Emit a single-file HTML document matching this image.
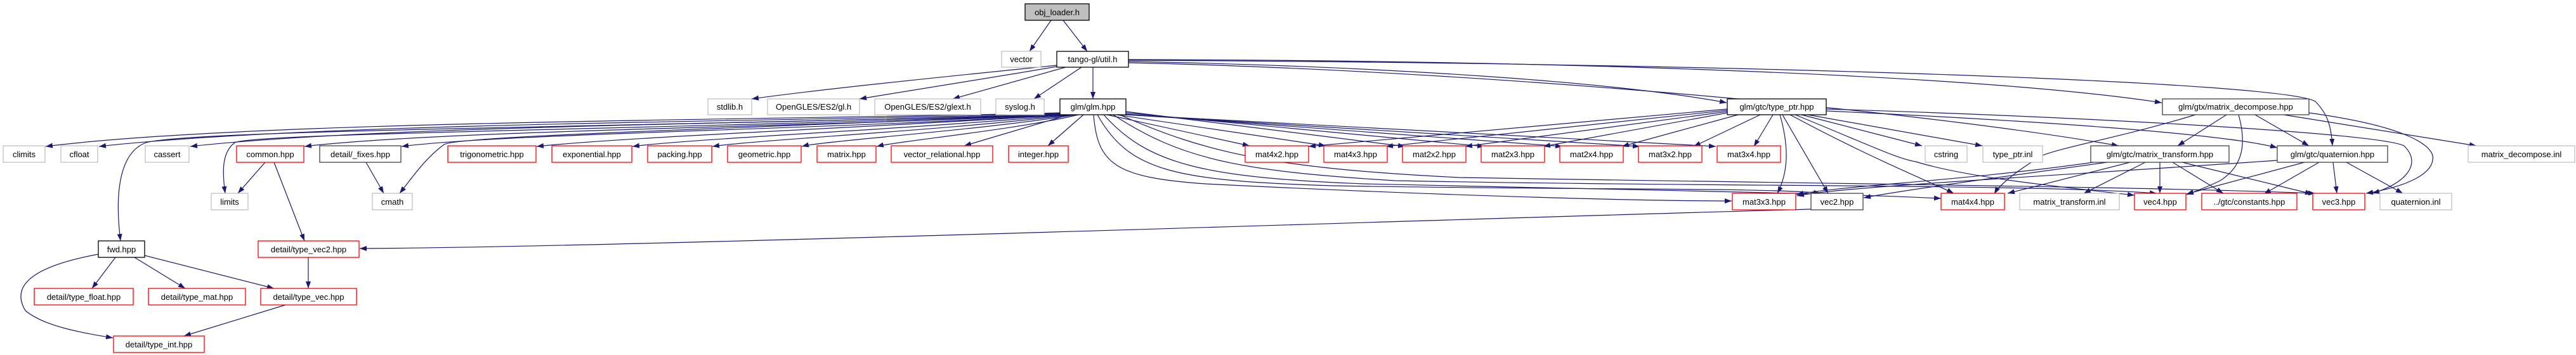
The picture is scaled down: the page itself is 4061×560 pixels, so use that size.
<!DOCTYPE html>
<html><head><meta charset="utf-8"><style>
html,body{margin:0;padding:0;background:#fff;}
svg{display:block;}
text{font-family:"Liberation Sans","DejaVu Sans",sans-serif;font-size:13px;fill:#000;text-anchor:middle;}
.e{fill:none;stroke:#191970;stroke-width:1.2;marker-end:url(#a);}
.g{fill:#fff;stroke:#bfbfbf;stroke-width:1.3;}
.r{fill:#fff;stroke:#ff0000;stroke-width:1.3;}
.b{fill:#fff;stroke:#000;stroke-width:1.3;}
.d{fill:#fff;stroke:#404040;stroke-width:1.3;}
</style></head><body>
<svg width="4061" height="560" viewBox="0 0 4061 560" xmlns="http://www.w3.org/2000/svg">
<defs><marker id="a" markerUnits="userSpaceOnUse" markerWidth="11" markerHeight="8" refX="11" refY="4" orient="auto"><path d="M0,0 L11,4 L0,8 z" fill="#191970"/></marker></defs>
<g>
<path class="e" d="M1657,32 L1623,81"/>
<path class="e" d="M1676,32 L1714,81"/>
<path class="e" d="M1666,103 C1500,120 1300,140 1185,156"/>
<path class="e" d="M1666,105 C1550,125 1420,145 1355,156"/>
<path class="e" d="M1680,106 L1502,156"/>
<path class="e" d="M1705,106 L1630,156"/>
<path class="e" d="M1723,106 L1723,156"/>
<path class="e" d="M1779,97 C2200,105 2550,130 2722,162"/>
<path class="e" d="M1779,94 C2400,95 3100,115 3408,162"/>
<path class="e" d="M1779,95 C2800,100 3600,130 3650,160 C3670,180 3675,200 3677,230"/>
<path class="e" d="M1779,99 C2300,110 3000,170 3340,230"/>
<path class="e" d="M1671,178 C1200,190 400,190 72,231"/>
<path class="e" d="M1671,179 C1200,193 500,193 156,231"/>
<path class="e" d="M1671,180 C1200,196 600,198 300,231"/>
<path class="e" d="M1671,181 C1300,200 700,205 480,231"/>
<path class="e" d="M1671,181 C1300,205 800,210 633,231"/>
<path class="e" d="M1680,181 C1400,200 1000,215 846,231"/>
<path class="e" d="M1685,181 C1450,203 1100,218 997,231"/>
<path class="e" d="M1690,181 C1500,205 1200,220 1123,231"/>
<path class="e" d="M1695,181 C1550,205 1300,222 1264,231"/>
<path class="e" d="M1700,181 C1600,205 1420,222 1382,231"/>
<path class="e" d="M1685,181 L1520,230"/>
<path class="e" d="M1708,181 L1652,230"/>
<path class="e" d="M1671,181 C1000,200 300,205 230,225 C190,240 180,300 190,380"/>
<path class="e" d="M1671,181 C1000,205 400,210 370,225 C350,240 350,270 355,305"/>
<path class="e" d="M1671,181 C1100,205 720,215 700,228 C670,250 650,280 630,305"/>
<path class="e" d="M1745,181 L1970,230"/>
<path class="e" d="M1760,181 L2090,230"/>
<path class="e" d="M1775,176 L2215,231"/>
<path class="e" d="M1775,178 L2340,231"/>
<path class="e" d="M1775,180 L2463,231"/>
<path class="e" d="M1775,181 L2585,231"/>
<path class="e" d="M1775,181 L2705,231"/>
<path class="e" d="M1724,181 C1730,260 1760,280 1900,290 C2300,310 2600,317 2730,317"/>
<path class="e" d="M1730,181 C1780,270 1850,285 2100,293 C2500,300 2800,296 2870,305"/>
<path class="e" d="M1740,181 C1810,260 1900,280 2150,290 C2600,300 2900,305 3060,313"/>
<path class="e" d="M1755,181 C1860,250 1950,270 2200,285 C2700,295 3200,290 3400,305"/>
<path class="e" d="M1765,181 C1900,240 2000,265 2300,280 C2900,290 3400,295 3650,305"/>
<path class="e" d="M2723,172 L2063,231"/>
<path class="e" d="M2723,174 L2185,231"/>
<path class="e" d="M2723,176 L2310,231"/>
<path class="e" d="M2723,178 L2433,231"/>
<path class="e" d="M2740,181 L2557,231"/>
<path class="e" d="M2775,181 L2670,231"/>
<path class="e" d="M2795,181 L2765,231"/>
<path class="e" d="M2806,181 C2820,230 2820,270 2802,305"/>
<path class="e" d="M2810,181 L2882,305"/>
<path class="e" d="M2822,181 C2950,250 3050,290 3080,305"/>
<path class="e" d="M2830,181 C2950,230 2990,250 3020,255 C3100,280 3250,295 3365,308"/>
<path class="e" d="M2840,181 L3030,230"/>
<path class="e" d="M2850,181 L3125,230"/>
<path class="e" d="M2879,175 C3200,190 3500,210 3590,233"/>
<path class="e" d="M2879,172 C3300,185 3750,210 3790,230 C3820,260 3790,290 3740,305"/>
<path class="e" d="M3510,181 L3433,230"/>
<path class="e" d="M3461,181 C3350,215 3260,230 3220,245 C3170,275 3150,295 3144,306"/>
<path class="e" d="M3529,181 C3540,220 3540,260 3500,285 C3480,295 3460,302 3447,307"/>
<path class="e" d="M3555,181 L3640,230"/>
<path class="e" d="M3600,181 L3904,230"/>
<path class="e" d="M3640,178 C3800,200 3830,230 3835,245 C3840,275 3790,295 3730,305"/>
<path class="e" d="M3322,256 C3150,280 3000,300 2938,312"/>
<path class="e" d="M3300,256 C3100,285 2900,293 2832,307"/>
<path class="e" d="M3358,256 L3165,305"/>
<path class="e" d="M3382,256 L3285,305"/>
<path class="e" d="M3405,256 L3405,305"/>
<path class="e" d="M3425,256 L3505,305"/>
<path class="e" d="M3440,256 L3645,306"/>
<path class="e" d="M3590,253 C3200,280 2900,295 2833,309"/>
<path class="e" d="M3633,256 L3447,306"/>
<path class="e" d="M3656,256 L3569,306"/>
<path class="e" d="M3678,256 L3684,305"/>
<path class="e" d="M3699,256 L3788,305"/>
<path class="e" d="M418,256 L375,305"/>
<path class="e" d="M432,256 L480,380"/>
<path class="e" d="M577,256 L605,305"/>
<path class="e" d="M2855,330 C2300,345 1000,390 567,392"/>
<path class="e" d="M182,406 L145,455"/>
<path class="e" d="M212,406 L292,455"/>
<path class="e" d="M228,403 L432,455"/>
<path class="e" d="M155,401 C80,415 10,440 40,490 C70,515 130,525 178,533"/>
<path class="e" d="M486,406 L486,455"/>
<path class="e" d="M450,481 L290,530"/>
</g>
<g>
<rect x="1616" y="6" width="101" height="26" fill="#bfbfbf" stroke="#000" stroke-width="1.3"/><text x="1666.5" y="24">obj_loader.h</text>
<rect class="g" x="1579" y="81" width="62" height="25"/><text x="1610" y="98">vector</text>
<rect class="b" x="1666" y="81" width="113" height="25"/><text x="1722.5" y="98">tango-gl/util.h</text>
<rect class="g" x="1116" y="156" width="69" height="25"/><text x="1150.5" y="173">stdlib.h</text>
<rect class="g" x="1210" y="156" width="145" height="25"/><text x="1282.5" y="173">OpenGLES/ES2/gl.h</text>
<rect class="g" x="1379" y="156" width="167" height="25"/><text x="1462.5" y="173">OpenGLES/ES2/glext.h</text>
<rect class="g" x="1570" y="156" width="76" height="25"/><text x="1608" y="173">syslog.h</text>
<rect class="b" x="1671" y="156" width="104" height="25"/><text x="1723" y="173">glm/glm.hpp</text>
<rect class="b" x="2723" y="156" width="156" height="25"/><text x="2801" y="173">glm/gtc/type_ptr.hpp</text>
<rect class="d" x="3409" y="156" width="231" height="25"/><text x="3524.5" y="173">glm/gtx/matrix_decompose.hpp</text>
<rect class="g" x="5" y="230" width="66" height="26"/><text x="38" y="248">climits</text>
<rect class="g" x="96" y="230" width="58" height="26"/><text x="125" y="248">cfloat</text>
<rect class="g" x="229" y="230" width="69" height="26"/><text x="263.5" y="248">cassert</text>
<rect class="r" x="373" y="230" width="106" height="26"/><text x="426" y="248">common.hpp</text>
<rect class="d" x="504" y="230" width="128" height="26"/><text x="568" y="248">detail/_fixes.hpp</text>
<rect class="r" x="706" y="230" width="139" height="26"/><text x="775.5" y="248">trigonometric.hpp</text>
<rect class="r" x="870" y="230" width="126" height="26"/><text x="933" y="248">exponential.hpp</text>
<rect class="r" x="1021" y="230" width="101" height="26"/><text x="1071.5" y="248">packing.hpp</text>
<rect class="r" x="1147" y="230" width="116" height="26"/><text x="1205" y="248">geometric.hpp</text>
<rect class="r" x="1288" y="230" width="93" height="26"/><text x="1334.5" y="248">matrix.hpp</text>
<rect class="r" x="1405" y="230" width="160" height="26"/><text x="1485" y="248">vector_relational.hpp</text>
<rect class="r" x="1590" y="230" width="94" height="26"/><text x="1637" y="248">integer.hpp</text>
<rect class="r" x="1963" y="230" width="100" height="26"/><text x="2013" y="248">mat4x2.hpp</text>
<rect class="r" x="2087" y="230" width="100" height="26"/><text x="2137" y="248">mat4x3.hpp</text>
<rect class="r" x="2211" y="230" width="100" height="26"/><text x="2261" y="248">mat2x2.hpp</text>
<rect class="r" x="2335" y="230" width="100" height="26"/><text x="2385" y="248">mat2x3.hpp</text>
<rect class="r" x="2459" y="230" width="100" height="26"/><text x="2509" y="248">mat2x4.hpp</text>
<rect class="r" x="2583" y="230" width="100" height="26"/><text x="2633" y="248">mat3x2.hpp</text>
<rect class="r" x="2707" y="230" width="100" height="26"/><text x="2757" y="248">mat3x4.hpp</text>
<rect class="g" x="3035" y="230" width="66" height="26"/><text x="3068" y="248">cstring</text>
<rect class="g" x="3126" y="230" width="94" height="26"/><text x="3173" y="248">type_ptr.inl</text>
<rect class="d" x="3296" y="230" width="218" height="26"/><text x="3405" y="248">glm/gtc/matrix_transform.hpp</text>
<rect class="d" x="3590" y="230" width="174" height="26"/><text x="3677" y="248">glm/gtc/quaternion.hpp</text>
<rect class="g" x="3891" y="230" width="168" height="26"/><text x="3975" y="248">matrix_decompose.inl</text>
<rect class="g" x="333" y="305" width="58" height="26"/><text x="362" y="323">limits</text>
<rect class="g" x="587" y="305" width="63" height="26"/><text x="618.5" y="323">cmath</text>
<rect class="r" x="2731" y="305" width="100" height="26"/><text x="2781" y="323">mat3x3.hpp</text>
<rect class="d" x="2855" y="305" width="82" height="26"/><text x="2896" y="323">vec2.hpp</text>
<rect class="r" x="3060" y="305" width="100" height="26"/><text x="3110" y="323">mat4x4.hpp</text>
<rect class="g" x="3184" y="305" width="157" height="26"/><text x="3262.5" y="323">matrix_transform.inl</text>
<rect class="r" x="3365" y="305" width="81" height="26"/><text x="3405.5" y="323">vec4.hpp</text>
<rect class="r" x="3471" y="305" width="150" height="26"/><text x="3546" y="323">../gtc/constants.hpp</text>
<rect class="r" x="3646" y="305" width="82" height="26"/><text x="3687" y="323">vec3.hpp</text>
<rect class="g" x="3752" y="305" width="113" height="26"/><text x="3808.5" y="323">quaternion.inl</text>
<rect class="b" x="155" y="380" width="73" height="26"/><text x="191.5" y="398">fwd.hpp</text>
<rect class="r" x="407" y="380" width="159" height="26"/><text x="486.5" y="398">detail/type_vec2.hpp</text>
<rect class="r" x="54" y="455" width="156" height="26"/><text x="132" y="473">detail/type_float.hpp</text>
<rect class="r" x="234" y="455" width="153" height="26"/><text x="310.5" y="473">detail/type_mat.hpp</text>
<rect class="r" x="411" y="455" width="151" height="26"/><text x="486.5" y="473">detail/type_vec.hpp</text>
<rect class="r" x="179" y="530" width="143" height="26"/><text x="250.5" y="548">detail/type_int.hpp</text>
</g>
</svg>
</body></html>
